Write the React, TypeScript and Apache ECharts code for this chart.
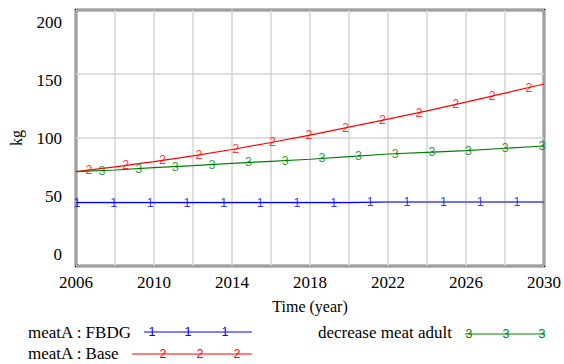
import React, { useEffect, useRef } from "react";
import * as echarts from "echarts";

const years = [2006, 2008, 2010, 2012, 2014, 2016, 2018, 2020, 2022, 2024, 2026, 2028, 2030];
const fbdg = [49.5, 49.5, 49.5, 49.5, 49.5, 49.5, 49.5, 50, 50, 50, 50, 50, 50];
const base = [73.7, 77.5, 81.5, 86, 91, 96.5, 102.3, 108.5, 114.8, 121.2, 128, 135, 142.2];
const decrease = [73.7, 75, 76.8, 78.4, 80.2, 81.8, 83.4, 85.4, 87.5, 88.8, 90.1, 92, 93.75];
const seriesNames = ["meatA : FBDG", "meatA : Base", "decrease meat adult"];
const markerDigits = ["1", "2", "3"];
const colors = ["#0000ff", "#ff0000", "#008000"];
const xTickLabels = [2006, 2010, 2014, 2018, 2022, 2026, 2030];
const yTickLabels = [0, 50, 100, 150, 200];

const SERIF = "'Liberation Serif', 'Times New Roman', serif";
const SANS = "'Liberation Sans', Arial, sans-serif";

function valueAt(xs: number[], ys: number[], x: number, step: boolean) {
  for (let i = 0; i < xs.length - 1; i++) {
    if (x >= xs[i] && x <= xs[i + 1]) {
      if (step) return x < xs[i + 1] ? ys[i] : ys[i + 1];
      const t = (x - xs[i]) / (xs[i + 1] - xs[i]);
      return ys[i] + t * (ys[i + 1] - ys[i]);
    }
  }
  return ys[ys.length - 1];
}

function markers(ys: number[], start: number, stepYears: number, step: boolean) {
  const out: number[][] = [];
  for (let x = start; x <= 2030.0001; x += stepYears) {
    out.push([x, valueAt(years, ys, x, step)]);
  }
  return out;
}

export default function App() {
  const ref = useRef<HTMLDivElement>(null);
  useEffect(() => {
    document.body.style.margin = "0";
    const chart = echarts.init(ref.current!, null, { renderer: "svg" });
    const data = [fbdg, base, decrease];
    const starts = [2006.05, 2006.67, 2007.33];
    const lineSeries = data.map((ys, i) => ({
      type: "line",
      name: seriesNames[i],
      data: years.map((y, j) => [y, ys[j]]),
      step: i === 0 ? "end" : undefined,
      showSymbol: false,
      symbol: "none",
      lineStyle: { color: colors[i], width: 1.2 },
      itemStyle: { color: colors[i] },
      z: 3,
    }));
    const markerSeries = data.map((ys, i) => ({
      type: "scatter",
      name: seriesNames[i] + " markers",
      data: markers(ys, starts[i], 1.88, i === 0),
      symbol: "circle",
      symbolSize: 1,
      itemStyle: { color: "rgba(0,0,0,0)" },
      label: {
        show: true,
        position: "inside",
        formatter: markerDigits[i],
        color: colors[i],
        fontFamily: SANS,
        fontSize: 12.5,
      },
      silent: true,
      z: 4,
    }));

    const legendRows = [
      { name: seriesNames[0], tx: 28, ty: 334, x1: 144, x2: 252, ly: 332, mk: [152, 188, 225] },
      { name: seriesNames[1], tx: 28, ty: 355, x1: 132, x2: 252, ly: 354, mk: [163, 200, 237] },
      { name: seriesNames[2], tx: 318, ty: 334, x1: 465, x2: 545, ly: 334, mk: [469, 506, 542] },
    ];
    const graphics: any[] = [];
    legendRows.forEach((r, i) => {
      graphics.push({
        type: "text",
        left: r.tx,
        top: r.ty - 10,
        style: { text: r.name, font: `17px ${SERIF}`, fill: "#000" },
      });
      graphics.push({
        type: "line",
        shape: { x1: r.x1, y1: r.ly, x2: r.x2, y2: r.ly },
        style: { stroke: colors[i], lineWidth: 1.2 },
      });
      r.mk.forEach((mx) => {
        graphics.push({
          type: "text",
          x: mx,
          y: r.ly,
          style: {
            text: markerDigits[i],
            font: `12.5px ${SANS}`,
            fill: colors[i],
            textAlign: "center",
            textVerticalAlign: "middle",
          },
        });
      });
    });

    chart.setOption({
      animation: false,
      textStyle: { fontFamily: SERIF },
      grid: {
        left: 76,
        top: 10,
        width: 469,
        height: 256,
        show: true,
        borderColor: "#000",
        borderWidth: 2.5,
        backgroundColor: "#fff",
      },
      xAxis: {
        type: "value",
        min: 2006,
        max: 2030,
        interval: 2,
        name: "Time (year)",
        nameLocation: "middle",
        nameGap: 32,
        nameTextStyle: { fontSize: 16, color: "#000", fontFamily: SERIF },
        axisLine: { show: false },
        axisTick: { show: false },
        axisLabel: {
          customValues: xTickLabels,
          formatter: (v: number) => String(v),
          fontSize: 17,
          color: "#000",
          fontFamily: SERIF,
          margin: 8,
        },
        splitLine: { show: true, lineStyle: { color: "#d3d3d3", width: 1.5 } },
      },
      yAxis: [
        {
          type: "value",
          min: 0,
          max: 200,
          interval: 50,
          name: "kg",
          nameLocation: "middle",
          nameGap: 52,
          nameTextStyle: { fontSize: 16, color: "#000", fontFamily: SERIF },
          axisLine: { show: false },
          axisTick: { show: false },
          axisLabel: { show: false },
          splitLine: { show: true, lineStyle: { color: "#d3d3d3", width: 1.5 } },
        },
        {
          type: "value",
          position: "left",
          min: -9.5,
          max: 211,
          axisLine: { show: false },
          axisTick: { show: false },
          splitLine: { show: false },
          axisLabel: {
            customValues: yTickLabels,
            formatter: (v: number) => String(v),
            fontSize: 17,
            color: "#000",
            fontFamily: SERIF,
            margin: 14,
          },
        },
      ],
      tooltip: { show: false },
      series: [...lineSeries, ...markerSeries],
      graphic: graphics,
    });
    return () => chart.dispose();
  }, []);
  return <div ref={ref} style={{ width: 564, height: 364 }} />;
}
